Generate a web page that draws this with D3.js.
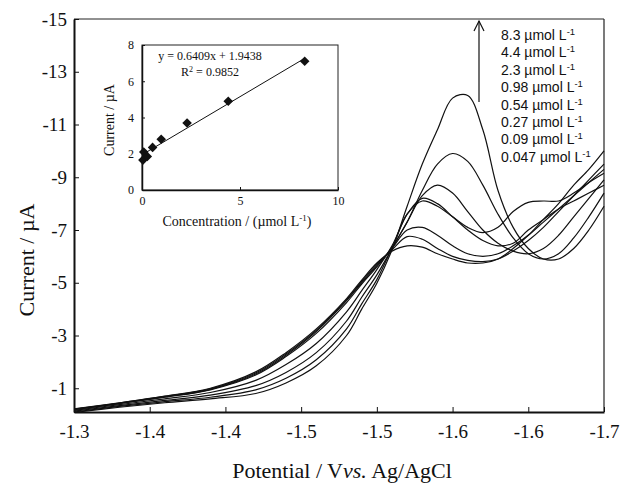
<!DOCTYPE html>
<html>
<head>
<meta charset="utf-8">
<script src="https://cdn.jsdelivr.net/npm/d3@7"></script>
<style>
  body { margin: 0; background: #fff; }
  text { font-family: "Liberation Serif", "Times New Roman", serif; fill: #111; }
</style>
</head>
<body>
<svg id="chart" width="622" height="483"></svg>
<script>
// potential grid (V vs Ag/AgCl)
const potential = [-1.30, -1.33, -1.36, -1.39, -1.42, -1.44, -1.46, -1.48, -1.49, -1.50,
  -1.51, -1.52, -1.53, -1.54, -1.55, -1.56, -1.57, -1.58, -1.59, -1.60,
  -1.61, -1.62, -1.63, -1.64, -1.65];

// current (uA) for each concentration
const cur83  = [-0.08, -0.28, -0.45, -0.60, -0.80, -1.20, -1.85, -3.00, -4.00, -4.98,
  -6.25, -7.90, -9.50, -10.80, -12.00, -12.10, -10.80, -8.50, -7.10, -6.30,
  -5.90, -5.90, -6.30, -7.00, -7.90];
const cur44  = [-0.10, -0.31, -0.49, -0.66, -0.94, -1.38, -2.08, -3.25, -4.20, -5.12,
  -6.30, -7.30, -8.50, -9.50, -9.90, -9.60, -8.70, -7.60, -6.70, -6.10,
  -5.90, -6.10, -6.70, -7.50, -8.40];
const cur23  = [-0.13, -0.34, -0.54, -0.74, -1.10, -1.60, -2.35, -3.55, -4.45, -5.30,
  -6.30, -7.30, -8.30, -8.70, -8.40, -7.70, -7.00, -6.50, -6.20, -6.10,
  -6.30, -6.80, -7.50, -8.20, -8.90];
const cur098 = [-0.16, -0.38, -0.60, -0.84, -1.30, -1.90, -2.70, -3.90, -4.70, -5.50,
  -6.40, -7.60, -8.20, -8.00, -7.50, -7.00, -6.60, -6.40, -6.50, -7.00,
  -7.40, -7.80, -8.10, -8.40, -8.70];
const cur054 = [-0.19, -0.42, -0.66, -0.94, -1.50, -2.20, -3.08, -4.25, -4.95, -5.60,
  -6.35, -7.60, -8.10, -7.90, -7.50, -7.10, -6.90, -7.10, -7.70, -8.05,
  -8.10, -8.10, -8.40, -8.80, -9.15];
const cur027 = [-0.20, -0.43, -0.67, -0.96, -1.54, -2.25, -3.15, -4.32, -5.00, -5.65,
  -6.30, -7.00, -7.10, -6.80, -6.40, -6.10, -6.00, -6.10, -6.40, -6.80,
  -7.30, -7.80, -8.30, -8.80, -9.30];
const cur009 = [-0.21, -0.44, -0.69, -0.98, -1.58, -2.30, -3.20, -4.36, -5.05, -5.70,
  -6.25, -6.75, -6.65, -6.30, -6.00, -5.85, -5.80, -5.90, -6.20, -6.60,
  -7.10, -7.70, -8.30, -8.90, -9.50];
const cur0047 = [-0.22, -0.45, -0.70, -1.00, -1.62, -2.35, -3.25, -4.40, -5.10, -5.75,
  -6.20, -6.40, -6.35, -6.10, -5.90, -5.75, -5.75, -5.90, -6.30, -6.80,
  -7.40, -8.00, -8.70, -9.30, -10.00];

const legendLabels = ["8.3", "4.4", "2.3", "0.98", "0.54", "0.27", "0.09", "0.047"];

const xTicks = [-1.30, -1.35, -1.40, -1.45, -1.50, -1.55, -1.60, -1.65];
const xTickLabels = ["-1.3", "-1.4", "-1.4", "-1.5", "-1.5", "-1.6", "-1.6", "-1.7"];
const yTicks = [-15, -13, -11, -9, -7, -5, -3, -1];

// inset calibration data
const concentration = [0.047, 0.09, 0.27, 0.54, 0.98, 2.3, 4.4, 8.3];
const peakCurrent   = [1.65, 2.10, 1.85, 2.35, 2.80, 3.70, 4.90, 7.10];
const slope = 0.6409, intercept = 1.9438;

const svg = d3.select("#chart");

const x = d3.scaleLinear().domain([-1.30, -1.65]).range([74, 604]);
const y = d3.scaleLinear().domain([-15, -0.1]).range([19, 412]);

// frame top/right
svg.append("line").attr("x1", 74).attr("x2", 604).attr("y1", 19).attr("y2", 19)
  .attr("stroke", "#222").attr("stroke-width", 1);
svg.append("line").attr("x1", 604).attr("x2", 604).attr("y1", 19).attr("y2", 412)
  .attr("stroke", "#222").attr("stroke-width", 1.2);

// curves
const series = [cur83, cur44, cur23, cur098, cur054, cur027, cur009, cur0047];
const line = d3.line()
  .x((d, i) => x(potential[i]))
  .y(d => y(d))
  .curve(d3.curveCatmullRom.alpha(0.5));

svg.append("g").selectAll("path")
  .data(series)
  .join("path")
  .attr("d", line)
  .attr("fill", "none")
  .attr("stroke", "#111")
  .attr("stroke-width", 1.2);

// axes
const xAxis = svg.append("g")
  .attr("transform", "translate(0,412)")
  .call(d3.axisBottom(x).tickValues(xTicks).tickSize(-5).tickSizeOuter(0).tickPadding(13)
    .tickFormat((d, i) => xTickLabels[i]));
const yAxis = svg.append("g")
  .attr("transform", "translate(74,0)")
  .call(d3.axisLeft(y).tickValues(yTicks).tickSize(-5).tickSizeOuter(0).tickPadding(7)
    .tickFormat(d => d));

[xAxis, yAxis].forEach(g => {
  g.select(".domain").attr("stroke", "#111").attr("stroke-width", 2);
  g.selectAll(".tick line").attr("stroke", "#111");
  g.selectAll("text").style("font-size", "19px").attr("fill", "#111");
});

// axis titles
svg.append("text")
  .attr("x", 342).attr("y", 478)
  .attr("text-anchor", "middle")
  .style("font-size", "22px")
  .call(t => {
    t.append("tspan").text("Potential / V");
    t.append("tspan").style("font-style", "italic").text("vs.");
    t.append("tspan").text(" Ag/AgCl");
  });

svg.append("text")
  .attr("transform", "translate(34,260) rotate(-90)")
  .attr("text-anchor", "middle")
  .style("font-size", "22px")
  .text("Current / \u00b5A");

// legend
const legend = svg.append("g");
legendLabels.forEach((lab, i) => {
  const t = legend.append("text")
    .attr("x", 501).attr("y", 40 + i * 17.4)
    .style("font-family", "'Liberation Sans', Arial, sans-serif")
    .style("font-size", "14px");
  t.append("tspan").text(lab + " \u00b5mol L");
  t.append("tspan").attr("dy", -5).style("font-size", "9.5px").text("-1");
});

// arrow
svg.append("line").attr("x1", 479).attr("x2", 479).attr("y1", 102).attr("y2", 21)
  .attr("stroke", "#111").attr("stroke-width", 1.2);
svg.append("path").attr("d", "M474,31 L479,21 L484,31")
  .attr("fill", "none").attr("stroke", "#111").attr("stroke-width", 1.2);

// inset
const ix = d3.scaleLinear().domain([0, 10]).range([142, 338]);
const iy = d3.scaleLinear().domain([0, 8]).range([190, 45]);
const inset = svg.append("g");

inset.append("rect").attr("x", 142).attr("y", 45).attr("width", 196).attr("height", 145)
  .attr("fill", "#fff").attr("stroke", "#222").attr("stroke-width", 1);

const ixAxis = inset.append("g").attr("transform", "translate(0,190)")
  .call(d3.axisBottom(ix).tickValues([0, 5, 10]).tickSize(-3).tickSizeOuter(0).tickPadding(6));
const iyAxis = inset.append("g").attr("transform", "translate(142,0)")
  .call(d3.axisLeft(iy).tickValues([0, 2, 4, 6, 8]).tickSize(-3).tickSizeOuter(0).tickPadding(8));
[ixAxis, iyAxis].forEach(g => {
  g.select(".domain").attr("stroke", "#111").attr("stroke-width", 1.5);
  g.selectAll(".tick line").attr("stroke", "#111");
  g.selectAll("text").style("font-size", "12px").attr("fill", "#111");
});

inset.append("line")
  .attr("x1", ix(concentration[0])).attr("y1", iy(slope * concentration[0] + intercept))
  .attr("x2", ix(d3.max(concentration))).attr("y2", iy(slope * d3.max(concentration) + intercept))
  .attr("stroke", "#111").attr("stroke-width", 1);

inset.append("g").selectAll("path")
  .data(concentration)
  .join("path")
  .attr("d", d3.symbol(d3.symbolSquare, 46))
  .attr("transform", (d, i) => `translate(${ix(d)},${iy(peakCurrent[i])}) rotate(45)`)
  .attr("fill", "#111");

inset.append("text").attr("x", 210).attr("y", 60).attr("text-anchor", "middle")
  .style("font-size", "12px").text("y = 0.6409x + 1.9438");
inset.append("text").attr("x", 210).attr("y", 76).attr("text-anchor", "middle")
  .style("font-size", "12px")
  .call(t => {
    t.append("tspan").text("R");
    t.append("tspan").attr("dy", -4).style("font-size", "8px").text("2");
    t.append("tspan").attr("dy", 4).text(" = 0.9852");
  });

inset.append("text")
  .attr("transform", "translate(114,120) rotate(-90)")
  .attr("text-anchor", "middle")
  .style("font-size", "14px")
  .text("Current / \u00b5A");

inset.append("text")
  .attr("x", 237).attr("y", 226)
  .attr("text-anchor", "middle")
  .style("font-size", "14px")
  .call(t => {
    t.append("tspan").text("Concentration / (\u00b5mol L");
    t.append("tspan").attr("dy", -5).style("font-size", "9px").text("-1");
    t.append("tspan").attr("dy", 5).text(")");
  });
</script>
</body>
</html>
